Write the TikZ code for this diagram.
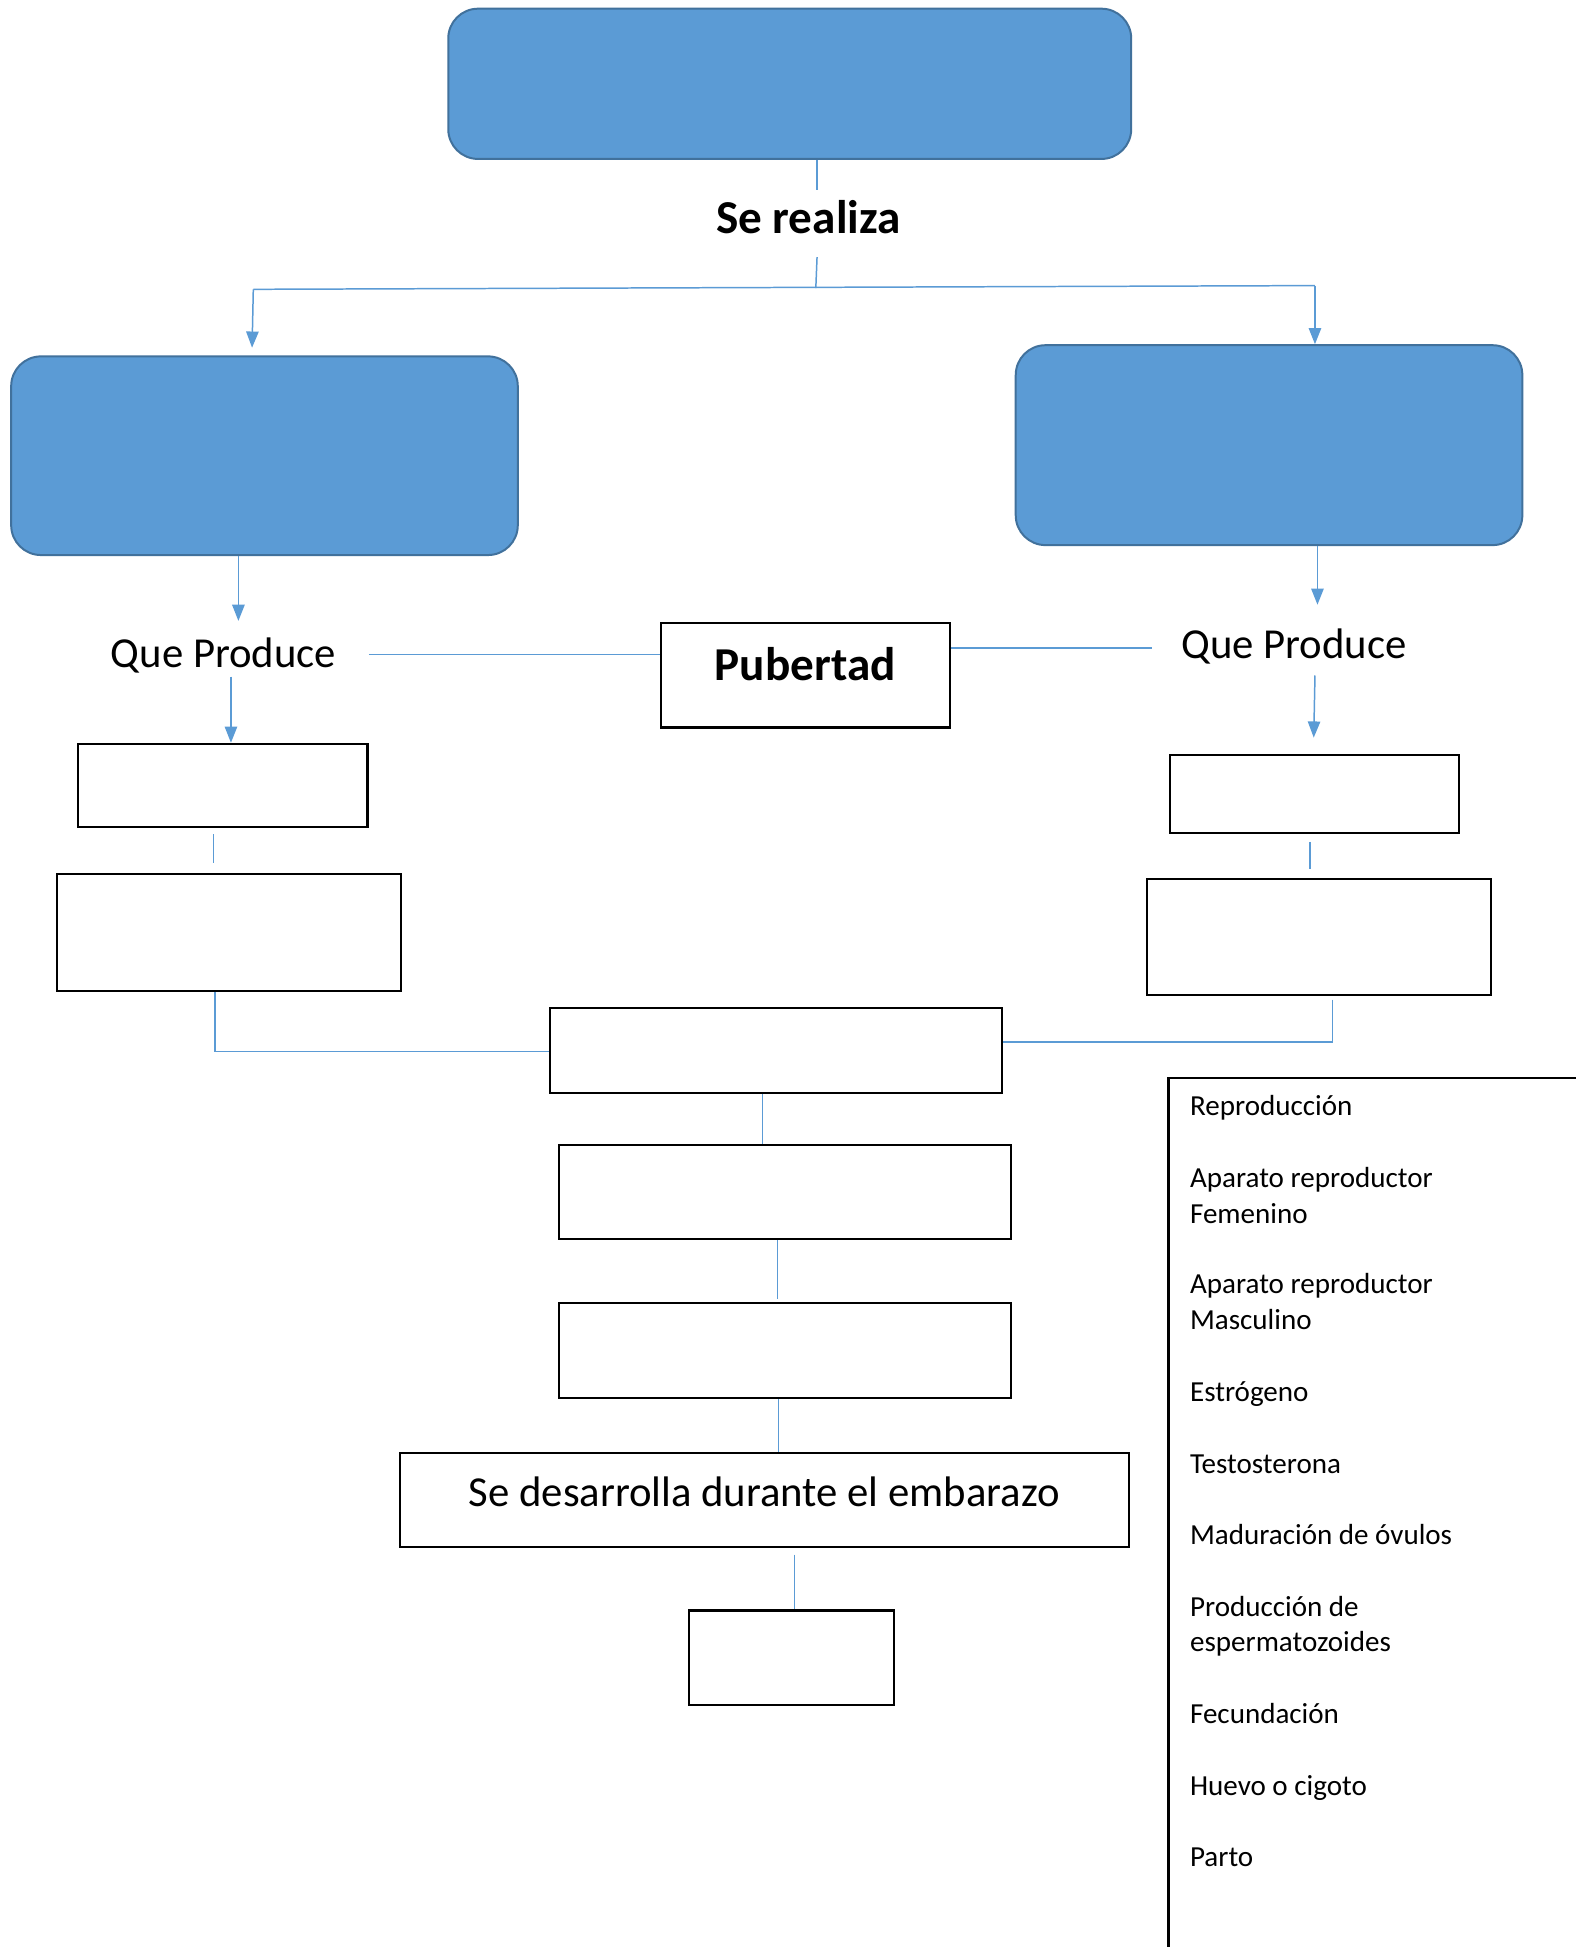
\documentclass[tikz,border=0pt]{standalone}
\usepackage{fontspec}
\setmainfont{Carlito}
\usetikzlibrary{arrows.meta}
\definecolor{boxblue}{HTML}{5B9BD5}
\definecolor{boxedge}{HTML}{41719C}

\begin{document}
\begin{tikzpicture}[
      x=0.5pt, y=-0.5pt,
      >={Triangle[width=5pt,length=6.5pt]},
      bluebox/.style={
        rectangle,
        rounded corners=12pt,
        draw=boxedge,
        fill=boxblue,
        line width=0.8pt,
        inner sep=0pt
      },
      emptybox/.style={rectangle, draw=black, line width=0.85pt, inner sep=0pt},
      link/.style={draw=boxblue, line width=0.6pt},
      bigtext/.style={inner sep=0pt, font=\fontsize{17.2}{20}\selectfont},
      boldtext/.style={inner sep=0pt, font=\fontsize{19}{22}\selectfont\bfseries},
      word/.style={anchor=base west, inner sep=0pt, font=\fontsize{11.7}{14}\selectfont}
    ]

      \path[fill=white, use as bounding box] (0,0) rectangle (1269,1568);

      % blue boxes
      \node[bluebox, minimum width=275pt, minimum height=60.5pt] (top) at (636,67.5) {};
      \node[bluebox, minimum width=204pt, minimum height=80pt] (left) at (213,367) {};
      \node[bluebox, minimum width=204pt, minimum height=80.5pt] (right) at (1022,358.5) {};

      \node[boldtext] (realiza) at (651,175) {Se realiza};
      \coordinate (realizatop) at (658,153);
      \coordinate (realizabot) at (658,207);
      \coordinate (split) at (657,232);
      \coordinate (splitl) at (204,233);
      \coordinate (splitr) at (1059,230);
      \coordinate (lefttip) at (203,280);
      \draw[link] (top.south -| realizatop) -- (realizatop);
      \draw[link] (realizabot) -- (split);
      \draw[link] (splitl) -- (splitr);
      \draw[link, ->] (splitl) -- (lefttip);
      \draw[link, ->] (splitr) -- (splitr |- right.north);

      % que produce
      \node[bigtext] (lqp) at (180,528) {Que Produce};
      \node[bigtext] (rqp) at (1042,521) {Que Produce};
      \node[emptybox, boldtext, minimum width=116.5pt, text height=23pt, text depth=19pt,
        anchor=north] (pub) at (648.5,501) {Pubertad};

      \coordinate (lqpin) at (192,500);
      \coordinate (lqpout) at (186,545);
      \coordinate (rqpin) at (1061,487);
      \coordinate (rqpout) at (1059,544);
      \coordinate (rsmalltip) at (1058,594);
      \coordinate (lqpend) at (297,527);
      \coordinate (rqpend) at (928,522);
      \draw[link, ->] (left.south -| lqpin) -- (lqpin);
      \draw[link, ->] (right.south -| rqpin) -- (rqpin);
      \draw[link] (lqpend) -- (lqpend -| pub.west);
      \draw[link] (pub.east |- rqpend) -- (rqpend);

      % empty boxes
      \node[emptybox, minimum width=116.5pt, minimum height=33.5pt] (lsmall) at (179.5,632.5) {};
      \node[emptybox, minimum width=138.5pt, minimum height=47pt] (lbig) at (184.5,751) {};
      \node[emptybox, minimum width=116.5pt, minimum height=31.5pt] (rsmall) at (1058.5,639.5) {};
      \node[emptybox, minimum width=138.5pt, minimum height=46.5pt] (rbig) at (1062.5,754.5) {};
      \node[emptybox, minimum width=182pt, minimum height=34pt] (cone) at (625,846) {};
      \node[emptybox, minimum width=182pt, minimum height=38pt] (ctwo) at (632,960) {};
      \node[emptybox, minimum width=182pt, minimum height=38.5pt] (cthree) at (632,1087.5) {};
      \node[emptybox, bigtext, minimum width=293.5pt, text height=21.5pt, text depth=16.5pt,
        anchor=north] (des) at (615.5,1169) {Se desarrolla durante el embarazo};
      \node[emptybox, minimum width=82.5pt, minimum height=38pt] (last) at (637.5,1335) {};

      \draw[link, ->] (lqpout) -- (lqpout |- lsmall.north);
      \draw[link, ->] (rqpout) -- (rsmalltip);

      \coordinate (la) at (172,672);
      \coordinate (lb) at (172,695);
      \coordinate (ra) at (1055,678);
      \coordinate (rb) at (1055,700);
      \coordinate (ljoin) at (173,847);
      \coordinate (rdrop) at (1073,805);
      \coordinate (rjoin) at (1073,839);
      \draw[link] (la) -- (lb);
      \draw[link] (ra) -- (rb);
      \draw[link] (lbig.south -| ljoin) -- (ljoin) -- (ljoin -| cone.west);
      \draw[link] (rdrop) -- (rjoin) -- (rjoin -| cone.east);

      \coordinate (mone) at (614,900);
      \coordinate (mtwo) at (626,1046);
      \coordinate (mthree) at (627,1150);
      \coordinate (mfour) at (640,1252);
      \draw[link] (cone.south -| mone) -- (ctwo.north -| mone);
      \draw[link] (ctwo.south -| mtwo) -- (mtwo);
      \draw[link] (cthree.south -| mthree) -- (des.north -| mthree);
      \draw[link] (mfour) -- (mfour |- last.north);

      % word bank
      \coordinate (banktop) at (1269,868);
      \coordinate (bankcorner) at (941,868);
      \coordinate (bankbot) at (941,1568);
      \draw[line width=0.9pt] (banktop) -- (bankcorner) -- (bankbot);
      \foreach \txt/\yy [count=\i] in {Reproducción/898, Aparato reproductor/956, Femenino/985,
          Aparato reproductor/1042, Masculino/1071, Estrógeno/1129, Testosterona/1187,
          Maduración de óvulos/1244, Producción de/1302, espermatozoides/1330,
          Fecundación/1388, Huevo o cigoto/1446, Parto/1503}
        \node[word] (word\i) at (958,\yy) {\txt};
    \end{tikzpicture}
\end{document}
